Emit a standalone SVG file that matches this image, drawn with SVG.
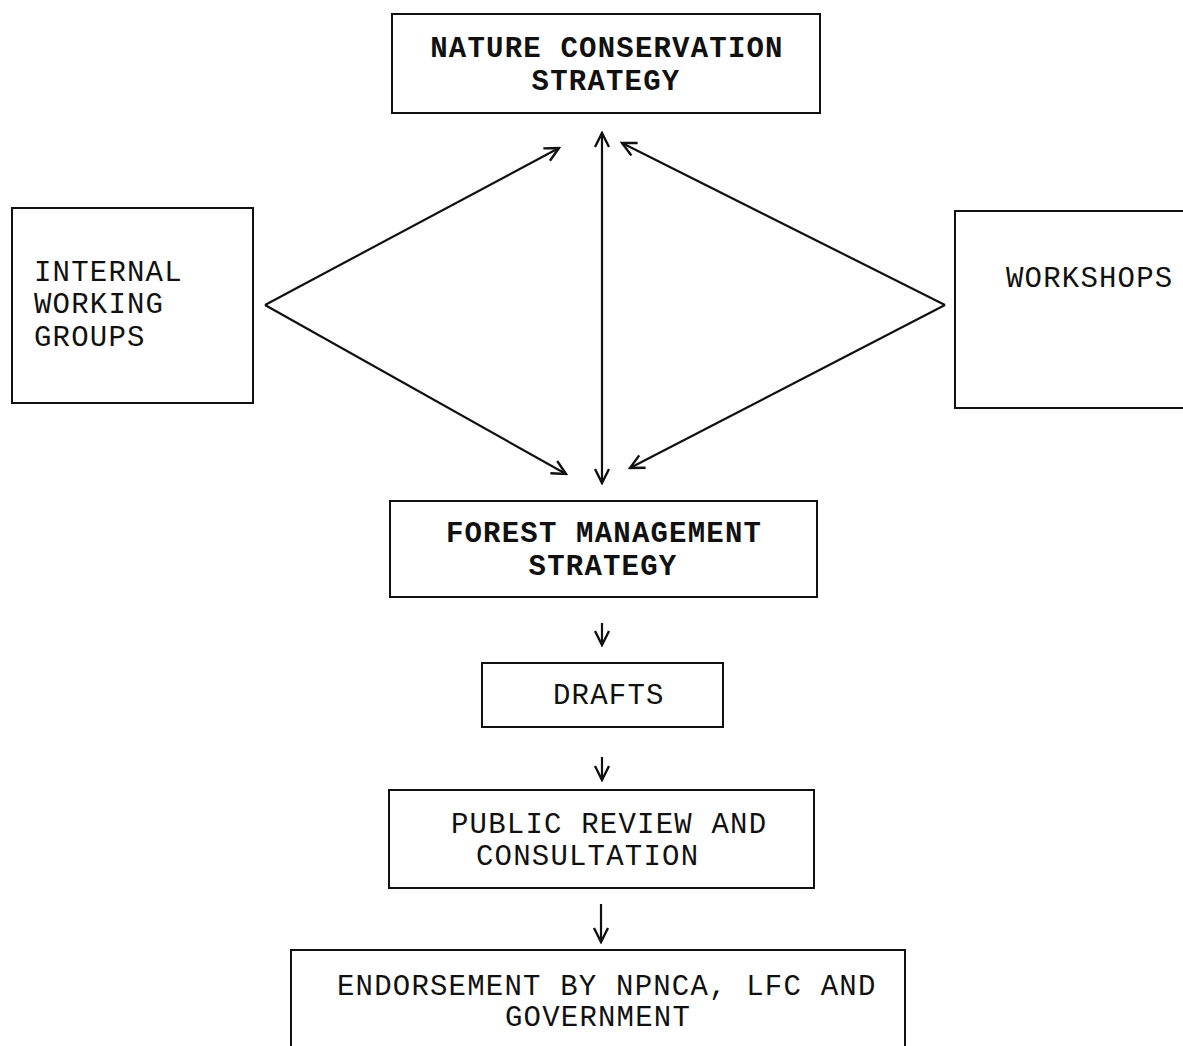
<svg xmlns="http://www.w3.org/2000/svg" width="1183" height="1046" viewBox="0 0 1183 1046">
<style>
.box{fill:none;stroke:#111;stroke-width:2}
.t{font-family:"Liberation Mono","Courier New",monospace;font-size:29px;letter-spacing:1.2px;fill:#111}
.b{font-weight:bold;text-anchor:middle}
.c{fill:none;stroke:#111;stroke-width:2.2}
</style>
<defs>
<marker id="ah" markerUnits="userSpaceOnUse" markerWidth="20" markerHeight="20" viewBox="0 0 20 20" refX="18" refY="10" orient="auto-start-reverse">
<path d="M4,3 L18,10 L4,17" fill="none" stroke="#111" stroke-width="2.4"/>
</marker>
</defs>
<rect width="1183" height="1046" fill="#fff"/>
<g id="ncs"><rect class="box" x="392" y="14" width="428" height="99"/>
<text class="t b" x="607" y="57">NATURE CONSERVATION</text>
<text class="t b" x="606" y="90">STRATEGY</text></g>
<g id="iwg"><rect class="box" x="12" y="208" width="241" height="195"/>
<text class="t" x="34" y="281">INTERNAL</text>
<text class="t" x="34" y="313">WORKING</text>
<text class="t" x="34" y="346">GROUPS</text></g>
<g id="workshops"><rect class="box" x="955" y="211" width="240" height="197"/>
<text class="t" x="1006" y="287">WORKSHOPS</text></g>
<g id="fms"><rect class="box" x="390" y="501" width="427" height="96"/>
<text class="t b" x="604" y="542">FOREST MANAGEMENT</text>
<text class="t b" x="603" y="575">STRATEGY</text></g>
<g id="drafts"><rect class="box" x="482" y="663" width="241" height="64"/>
<text class="t" x="553" y="704">DRAFTS</text></g>
<g id="review"><rect class="box" x="389" y="790" width="425" height="98"/>
<text class="t" x="451" y="833">PUBLIC REVIEW AND</text>
<text class="t" x="476" y="865">CONSULTATION</text></g>
<g id="endorse"><rect class="box" x="291" y="950" width="614" height="110"/>
<text class="t" x="337" y="995">ENDORSEMENT BY NPNCA, LFC AND</text>
<text class="t" x="505" y="1026">GOVERNMENT</text></g>
<g id="connectors">
<line class="c" x1="265" y1="305" x2="559" y2="148" marker-end="url(#ah)"/>
<line class="c" x1="265" y1="305" x2="566" y2="474" marker-end="url(#ah)"/>
<line class="c" x1="602" y1="133" x2="602" y2="483" marker-start="url(#ah)" marker-end="url(#ah)"/>
<line class="c" x1="945" y1="305" x2="622" y2="143" marker-end="url(#ah)"/>
<line class="c" x1="945" y1="305" x2="630" y2="468" marker-end="url(#ah)"/>
<line class="c" x1="602" y1="623" x2="602" y2="645" marker-end="url(#ah)"/>
<line class="c" x1="602" y1="757" x2="602" y2="780" marker-end="url(#ah)"/>
<line class="c" x1="601" y1="904" x2="601" y2="942" marker-end="url(#ah)"/>
</g>
</svg>
